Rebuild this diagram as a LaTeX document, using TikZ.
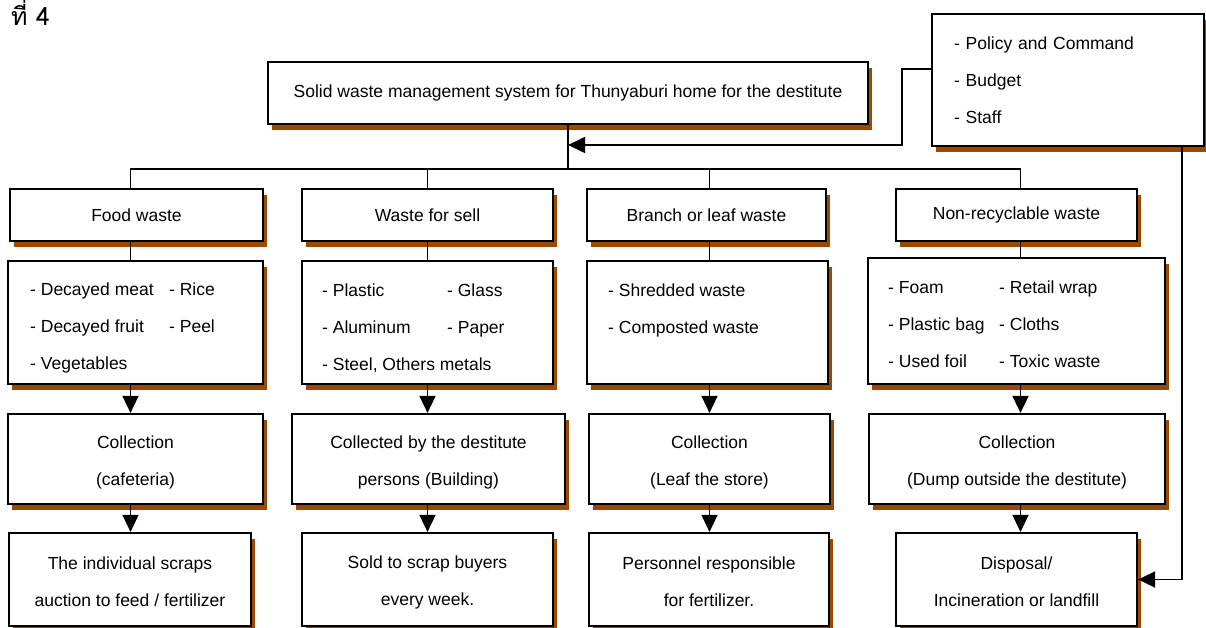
\documentclass[tikz,border=0pt]{standalone}
\usepackage{fontspec}
\setmainfont{Liberation Sans}
\newfontfamily\thaifont[Script=Thai]{Loma}
\usetikzlibrary{arrows.meta,shadows}
\definecolor{shadowbrown}{RGB}{153,73,0}
\newcommand{\topstrut}[1]{\rule{0pt}{#1pt}}

\begin{document}
\begin{tikzpicture}[
    x=1pt, y=-1pt,
    box/.style={draw, line width=2.2pt, fill=white, inner sep=0pt, align=center,
        font=\fontsize{17.5}{37}\selectfont,
        drop shadow={shadow xshift=3.5pt, shadow yshift=-6pt, fill=shadowbrown, opacity=1}},
    list/.style={inner sep=0pt, anchor=west, font=\fontsize{17.5}{37}\selectfont},
    link/.style={line width=1.6pt},
    flow/.style={line width=1.6pt, -{Triangle[length=17pt,width=16pt]}}]
    \useasboundingbox (0,0) rectangle (1206,628);

    % Ueberschrift
    \node[anchor=base west, inner sep=0pt, font=\thaifont\fontsize{25}{30}\selectfont] (heading) at (11,26) {ที่ 4};

    % Kopf
    \node[box, minimum width=600pt, minimum height=62pt] (title) at (568,93)
        {Solid waste management system for Thunyaburi home for the destitute};
    \node[box, minimum width=272pt, minimum height=132pt, align=left, text width=228pt] (policy) at (1068,80)
        {- Policy and Command\\- Budget\\- Staff};

    % Abfallarten
    \node[box, minimum width=253pt, minimum height=52pt] (foodCat) at (136.5,215) {Food waste};
    \node[box, minimum width=251pt, minimum height=52pt] (sellCat) at (427.5,215) {Waste for sell};
    \node[box, minimum width=239pt, minimum height=52pt] (branchCat) at (706.5,215) {Branch or leaf waste};
    \node[box, minimum width=241pt, minimum height=52pt] (nonrecCat) at (1016.5,215) {Non-recyclable waste};

    % Bestandteile
    \node[box, minimum width=255pt, minimum height=123pt] (foodItems) at (135.5,322.5) {};
    \node[box, minimum width=251pt, minimum height=123pt] (sellItems) at (427.5,322.5) {};
    \node[box, minimum width=241pt, minimum height=123pt] (branchItems) at (707.5,322.5) {};
    \node[box, minimum width=297pt, minimum height=126pt] (nonrecItems) at (1016.5,321) {};
    \node[list] (foodList) at (30,325) {\begin{tabular}{@{}p{139pt}@{}l@{}}
        - Decayed meat & - Rice\\ - Decayed fruit & - Peel\\ - Vegetables &\end{tabular}};
    \node[list] (sellList) at (322,326) {\begin{tabular}{@{}p{125pt}@{}l@{}}
        - Plastic & - Glass\\ - Aluminum & - Paper\\ \multicolumn{2}{@{}l@{}}{- Steel, Others metals}\end{tabular}};
    \node[list] (branchList) at (608,308) {\begin{tabular}{@{}l@{}}
        - Shredded waste\\ - Composted waste\end{tabular}};
    \node[list] (nonrecList) at (888,323) {\begin{tabular}{@{}p{111pt}@{}l@{}}
        - Foam & - Retail wrap\\ - Plastic bag & - Cloths\\ - Used foil & - Toxic waste\end{tabular}};

    % Sammlung
    \node[box, minimum width=255pt, minimum height=90pt] (foodColl) at (135.5,459)
        {\topstrut{20}Collection\\(cafeteria)};
    \node[box, minimum width=273pt, minimum height=90pt] (sellColl) at (428.5,459)
        {\topstrut{20}Collected by the destitute\\persons (Building)};
    \node[box, minimum width=241pt, minimum height=90pt] (branchColl) at (709.5,459)
        {\topstrut{20}Collection\\(Leaf the store)};
    \node[box, minimum width=296pt, minimum height=90pt] (nonrecColl) at (1017,459)
        {\topstrut{20}Collection\\(Dump outside the destitute)};

    % Verbleib
    \node[box, minimum width=242pt, minimum height=93pt] (foodFinal) at (130,579.5)
        {\topstrut{18}The individual scraps\\auction to feed / fertilizer};
    \node[box, minimum width=251pt, minimum height=93pt] (sellFinal) at (427.5,579.5)
        {\topstrut{18}Sold to scrap buyers\\every week.};
    \node[box, minimum width=240pt, minimum height=93pt] (branchFinal) at (709,579.5)
        {\topstrut{18}Personnel responsible\\for fertilizer.};
    \node[box, minimum width=241pt, minimum height=93pt] (nonrecFinal) at (1016.5,579.5)
        {\topstrut{18}Disposal/\\Incineration or landfill};

    % Verbindungen
    \coordinate (foodCol) at (130.5,0);
    \coordinate (sellCol) at (427.5,0);
    \coordinate (branchCol) at (709.5,0);
    \coordinate (nonrecCol) at (1020.5,0);
    \coordinate (bus) at (568,169);
    \draw[link] (title.south) -- (bus);
    \draw[link] (foodCat.north -| foodCol) |- (bus) -| (nonrecCat.north -| nonrecCol);
    \draw[link] (sellCat.north -| sellCol) -- (sellCol |- bus);
    \draw[link] (branchCat.north -| branchCol) -- (branchCol |- bus);

    \draw[link] (foodCat.south -| foodCol) -- (foodItems.north -| foodCol);
    \draw[link] (sellCat.south -| sellCol) -- (sellItems.north -| sellCol);
    \draw[link] (branchCat.south -| branchCol) -- (branchItems.north -| branchCol);
    \draw[link] (nonrecCat.south -| nonrecCol) -- (nonrecItems.north -| nonrecCol);

    \draw[flow] (foodItems.south -| foodCol) -- (foodColl.north -| foodCol);
    \draw[flow] (sellItems.south -| sellCol) -- (sellColl.north -| sellCol);
    \draw[flow] (branchItems.south -| branchCol) -- (branchColl.north -| branchCol);
    \draw[flow] (nonrecItems.south -| nonrecCol) -- (nonrecColl.north -| nonrecCol);

    \draw[flow] (foodColl.south -| foodCol) -- (foodFinal.north -| foodCol);
    \draw[flow] (sellColl.south -| sellCol) -- (sellFinal.north -| sellCol);
    \draw[flow] (branchColl.south -| branchCol) -- (branchFinal.north -| branchCol);
    \draw[flow] (nonrecColl.south -| nonrecCol) -- (nonrecFinal.north -| nonrecCol);

    % Steuerung
    \coordinate (policyOut) at (932,69);
    \coordinate (policyBend) at (902,145);
    \coordinate (rightCol) at (1182,0);
    \draw[flow] (policyOut) -| (policyBend) -- (title.south |- policyBend);
    \draw[flow] (policy.south -| rightCol) |- (nonrecFinal.east);
\end{tikzpicture}
\end{document}
